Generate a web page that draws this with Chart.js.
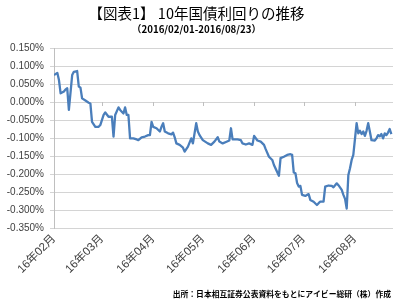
<!DOCTYPE html>
<html lang="ja">
<head>
<meta charset="utf-8">
<title>10年国債利回りの推移</title>
<script src="https://cdn.jsdelivr.net/npm/chart.js@4.4.0/dist/chart.umd.min.js"></script>
<style>
  html, body { margin: 0; padding: 0; background: #fff; }
  #chart { display: block; }
</style>
</head>
<body>
<canvas id="chart" width="400" height="301"></canvas>
<script>
// 10年国債利回り (%), 2016/02/01 - 2016/08/23
const startDate = '02-01';
const endDate = '08-23';

// 月の目盛り
const monthStarts = ['02-01', '03-01', '04-01', '05-01', '06-01', '07-01', '08-01'];
const monthLabels = ['16年02月', '16年03月', '16年04月', '16年05月', '16年06月', '16年07月', '16年08月'];

// Y軸の目盛り
const yTicks = [0.15, 0.10, 0.05, 0, -0.05, -0.10, -0.15, -0.20, -0.25, -0.30, -0.35];

const dates = [
    '02-01', '02-03', '02-04', '02-05', '02-07', '02-08', '02-09', '02-10', '02-12', '02-13',
    '02-15', '02-16', '02-17', '02-18', '02-20', '02-22', '02-23', '02-24', '02-26', '02-28',
    '02-29', '03-02', '03-03', '03-05', '03-07', '03-08', '03-09', '03-11', '03-12', '03-14',
    '03-15', '03-16', '03-17', '03-18', '03-20', '03-22', '03-23', '03-25', '03-27', '03-29',
    '03-30', '03-31', '04-01', '04-03', '04-05', '04-06', '04-07', '04-08', '04-10', '04-12',
    '04-13', '04-14', '04-15', '04-17', '04-19', '04-20', '04-22', '04-24', '04-25', '04-27',
    '04-28', '04-29', '05-01', '05-04', '05-06', '05-08', '05-10', '05-11', '05-13', '05-15',
    '05-17', '05-18', '05-19', '05-22', '05-24', '05-25', '05-27', '05-29', '05-31', '06-01',
    '06-03', '06-05', '06-07', '06-08', '06-10', '06-12', '06-13', '06-16', '06-17', '06-19',
    '06-21', '06-23', '06-24', '06-25', '06-26', '06-27', '06-28', '06-29', '06-30', '07-02',
    '07-03', '07-04', '07-05', '07-07', '07-09', '07-10', '07-11', '07-13', '07-14', '07-16',
    '07-18', '07-19', '07-21', '07-22', '07-24', '07-25', '07-26', '07-27', '07-28', '07-29',
    '07-30', '07-31', '08-02', '08-03', '08-04', '08-05', '08-06', '08-07', '08-08', '08-09',
    '08-10', '08-11', '08-13', '08-14', '08-15', '08-16', '08-17', '08-18', '08-19', '08-20',
    '08-21', '08-22', '08-23'
];

const yields = [
    0.075, 0.081, 0.061, 0.024, 0.029, 0.035, 0.038, -0.022, 0.075, 0.084,
    0.086, 0.043, 0.040, 0.010, 0.004, -0.002, -0.004, -0.055, -0.069, -0.069,
    -0.064, -0.036, -0.029, -0.041, -0.041, -0.096, -0.036, -0.015, -0.022, -0.032,
    -0.015, -0.036, -0.036, -0.101, -0.101, -0.104, -0.106, -0.098, -0.096, -0.092,
    -0.092, -0.055, -0.069, -0.073, -0.082, -0.069, -0.059, -0.082, -0.087, -0.090,
    -0.085, -0.098, -0.115, -0.119, -0.127, -0.138, -0.124, -0.101, -0.115, -0.059,
    -0.082, -0.092, -0.106, -0.115, -0.119, -0.110, -0.098, -0.110, -0.115, -0.111,
    -0.107, -0.073, -0.104, -0.104, -0.106, -0.115, -0.118, -0.115, -0.119, -0.094,
    -0.107, -0.110, -0.119, -0.131, -0.152, -0.161, -0.175, -0.205, -0.156, -0.152,
    -0.147, -0.145, -0.147, -0.196, -0.198, -0.225, -0.235, -0.233, -0.258, -0.261,
    -0.258, -0.256, -0.272, -0.277, -0.286, -0.281, -0.277, -0.277, -0.235, -0.232,
    -0.233, -0.237, -0.226, -0.231, -0.244, -0.258, -0.269, -0.296, -0.203, -0.184,
    -0.161, -0.147, -0.059, -0.087, -0.080, -0.089, -0.082, -0.094, -0.080, -0.059,
    -0.082, -0.106, -0.107, -0.101, -0.092, -0.095, -0.089, -0.101, -0.087, -0.092,
    -0.085, -0.075, -0.089
];

// 'MM-DD' -> 2016/02/01からの日数
function dayOffset(md) {
    const [m, d] = md.split('-').map(Number);
    const [m0, d0] = startDate.split('-').map(Number);
    return (Date.UTC(2016, m - 1, d) - Date.UTC(2016, m0 - 1, d0)) / 86400000;
}

const points = dates.map((d, i) => ({ x: dayOffset(d), y: yields[i] }));
const monthTickValues = monthStarts.map(dayOffset);

const GRID = '#d4d4d4';
const TEXT = '#404040';
const CJK = '"Noto Sans CJK JP", sans-serif';
const NUM = '"Liberation Sans", "Noto Sans CJK JP", sans-serif';

// ゼロ線上の目盛り（Excel風）
const zeroTicks = {
    id: 'zeroTicks',
    beforeDatasetsDraw(chart) {
        const { ctx, scales: { x, y } } = chart;
        const y0 = y.getPixelForValue(0);
        ctx.save();
        ctx.strokeStyle = '#bfbfbf';
        ctx.lineWidth = 1;
        monthTickValues.forEach(v => {
            const px = Math.round(x.getPixelForValue(v)) + 0.5;
            ctx.beginPath();
            ctx.moveTo(px, y0);
            ctx.lineTo(px, y0 + 4);
            ctx.stroke();
        });
        ctx.restore();
    }
};

// 出所
const footer = {
    id: 'footer',
    afterDraw(chart) {
        const ctx = chart.ctx;
        ctx.save();
        ctx.font = 'bold 7.8px ' + CJK;
        ctx.fillStyle = '#000';
        ctx.textAlign = 'right';
        ctx.textBaseline = 'middle';
        ctx.fillText('出所：日本相互証券公表資料をもとにアイビー総研（株）作成', 391, 294);
        ctx.restore();
    }
};

new Chart(document.getElementById('chart'), {
    type: 'line',
    data: {
        datasets: [{
            label: '10年国債利回り',
            data: points,
            borderColor: '#4a7ebb',
            borderWidth: 2.3,
            pointRadius: 0,
            tension: 0,
            borderJoinStyle: 'round',
            fill: false
        }]
    },
    options: {
        responsive: false,
        animation: false,
        layout: { padding: { top: 0, left: 0, right: 7, bottom: 18 } },
        plugins: {
            legend: { display: false },
            tooltip: { enabled: false },
            title: {
                display: true,
                text: '【図表1】 10年国債利回りの推移',
                color: '#000',
                font: { family: CJK, size: 14.5, weight: 'normal', lineHeight: 1.2 },
                padding: { top: 5, bottom: 1 }
            },
            subtitle: {
                display: true,
                text: '（2016/02/01-2016/08/23）',
                color: '#000',
                font: { family: CJK, size: 9.7, weight: 'bold', lineHeight: 1.2 },
                padding: { top: 0, bottom: 12.96 }
            }
        },
        scales: {
            x: {
                type: 'linear',
                min: 0,
                max: dayOffset(endDate) + 1,
                afterBuildTicks: scale => {
                    scale.ticks = monthTickValues.map(v => ({ value: v }));
                },
                afterFit: scale => { scale.height = 55; },
                grid: { display: false, drawTicks: false },
                border: { display: false },
                ticks: {
                    autoSkip: false,
                    minRotation: 45,
                    maxRotation: 45,
                    padding: 4,
                    color: TEXT,
                    font: { family: NUM, size: 11.5 },
                    callback: (v, i) => monthLabels[i]
                }
            },
            y: {
                min: yTicks[yTicks.length - 1],
                max: yTicks[0],
                afterBuildTicks: scale => {
                    scale.ticks = yTicks.map(v => ({ value: v }));
                },
                afterFit: scale => { scale.width = 54; },
                grid: { color: GRID, tickLength: 4, drawTicks: true },
                border: { display: true, color: '#bfbfbf' },
                ticks: {
                    padding: 6,
                    color: TEXT,
                    font: { family: NUM, size: 10 },
                    callback: v => v.toFixed(3) + '%'
                }
            }
        }
    },
    plugins: [zeroTicks, footer]
});
</script>
</body>
</html>
